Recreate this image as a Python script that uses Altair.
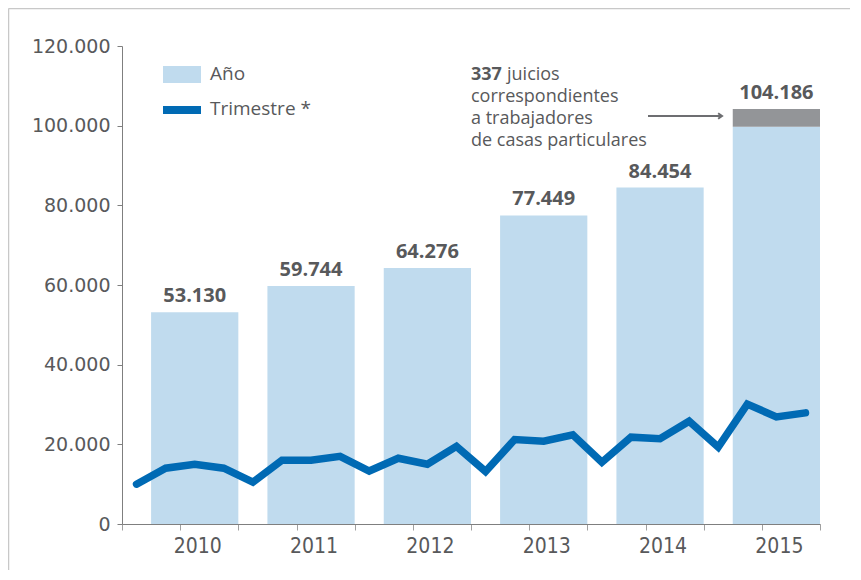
import altair as alt
import pandas as pd

# ---------------- data ----------------
years = ["2010", "2011", "2012", "2013", "2014", "2015"]
annual_totals = [53130, 59744, 64276, 77449, 84454, 104186]
# light-blue part of each bar as drawn (2015 split: grey top segment = 337 domestic-worker cases, drawn enlarged)
annual_base = [53130, 59744, 64276, 77449, 84454, 99700]
quarterly = [10000, 14000, 15000, 14000,
             10500, 16000, 16000, 17000,
             13300, 16500, 15000, 19500,
             13200, 21200, 20800, 22400,
             15500, 21800, 21400, 25800,
             19300, 30100, 26900, 27900]
y_ticks = [0, 20000, 40000, 60000, 80000, 100000, 120000]

W, H = 698, 478
TXT = "#58595b"
BLUE_LIGHT = "#c0dbee"
BLUE = "#006ab4"
GREY = "#939598"
AXIS = "#7f7f7f"

def fmt(v):
    return f"{v:,}".replace(",", ".")

bars = []
for i, (y, base, tot) in enumerate(zip(years, annual_base, annual_totals)):
    bars.append({"x0": 4 * i + 1, "x1": 4 * i + 4, "lo": 0, "hi": base, "col": BLUE_LIGHT})
    if tot > base:
        bars.append({"x0": 4 * i + 1, "x1": 4 * i + 4, "lo": base, "hi": tot, "col": GREY})
bars_df = pd.DataFrame(bars)

labels_df = pd.DataFrame({
    "year": years,
    "xc": [4 * i + 2.5 for i in range(len(years))],
    "total": annual_totals,
    "label": [fmt(v) for v in annual_totals],
})

line_df = pd.DataFrame({"q": [i + 0.5 for i in range(len(quarterly))], "v": quarterly})

xs = alt.Scale(domain=[0, 24], nice=False, zero=False)
ys = alt.Scale(domain=[0, 120000], nice=False)

base = alt.Chart(bars_df)

bar_layer = base.mark_rect().encode(
    x=alt.X("x0:Q", scale=xs,
            axis=alt.Axis(values=list(range(25)), labels=False, tickSize=6, title=None,
                          grid=False, domainColor=AXIS, tickColor="#a0a0a0", domainWidth=1)),
    x2="x1:Q",
    y=alt.Y("lo:Q", scale=ys,
            axis=alt.Axis(values=y_ticks, title=None, grid=False, tickSize=5, labelPadding=7,
                          domainColor=AXIS, tickColor=AXIS, labelColor=TXT, labelFontSize=19,
                          labelFont="DejaVu Sans",
                          labelExpr="replace(format(datum.value, ','), regexp(',', 'g'), '.')")),
    y2="hi:Q",
    color=alt.Color("col:N", scale=None),
)

line_layer = alt.Chart(line_df).mark_line(
    color=BLUE, strokeWidth=7.5, strokeCap="round", strokeJoin="miter"
).encode(x=alt.X("q:Q", scale=xs), y=alt.Y("v:Q", scale=ys))

value_layer = alt.Chart(labels_df).mark_text(
    font="Open Sans", fontWeight="bold", fontSize=20, color=TXT, baseline="middle", dy=-16
).encode(x=alt.X("xc:Q", scale=xs), y=alt.Y("total:Q", scale=ys), text="label:N")

year_layer = alt.Chart(labels_df).mark_text(
    font="DejaVu Sans Condensed", fontSize=21, color=TXT, baseline="middle", dx=3
).encode(x=alt.X("xc:Q", scale=xs), y=alt.value(H + 23), text="year:N")

one = pd.DataFrame({"a": [0]})
oc = alt.Chart(one)

leg_rect = oc.mark_rect(color=BLUE_LIGHT).encode(
    x=alt.value(41), x2=alt.value(79), y=alt.value(20), y2=alt.value(37))
leg_line = oc.mark_rule(color=BLUE, strokeWidth=8).encode(
    x=alt.value(41), x2=alt.value(79), y=alt.value(64))
leg_t1 = oc.mark_text(font="Open Sans", fontSize=19, color=TXT, align="left", baseline="middle").encode(
    x=alt.value(88), y=alt.value(28), text=alt.value("Año"))
leg_t2 = oc.mark_text(font="Open Sans", fontSize=19, color=TXT, align="left", baseline="middle").encode(
    x=alt.value(88), y=alt.value(63), text=alt.value("Trimestre *"))

ann_bold = oc.mark_text(font="Open Sans", fontWeight="bold", fontSize=18, color=TXT,
                        align="left", baseline="middle").encode(
    x=alt.value(349), y=alt.value(29), text=alt.value("337"))
ann_lines = [("juicios", 385, 29), ("correspondientes", 349, 51),
             ("a trabajadores", 349, 73), ("de casas particulares", 349, 95)]
ann_layers = [oc.mark_text(font="Open Sans", fontSize=18, color=TXT, align="left",
                           baseline="middle").encode(x=alt.value(xx), y=alt.value(yy), text=alt.value(t))
              for t, xx, yy in ann_lines]
arrow_line = oc.mark_rule(color="#6d6e71", strokeWidth=2).encode(
    x=alt.value(526), x2=alt.value(600), y=alt.value(70))
arrow_head = oc.mark_point(shape="M -1 -0.7 L 0 0 L -1 0.7", filled=False, color="#6d6e71",
                           strokeWidth=2, size=60, opacity=1).encode(
    x=alt.value(600), y=alt.value(70))

border_top = oc.mark_rule(color="#c8c8c8", strokeWidth=1.5).encode(
    x=alt.value(-113.5), x2=alt.value(W + 30), y=alt.value(-37.5))
border_left = oc.mark_rule(color="#c8c8c8", strokeWidth=1.5).encode(
    x=alt.value(-113.5), y=alt.value(-37.5), y2=alt.value(H + 46))

chart = alt.layer(
    bar_layer, line_layer, value_layer, year_layer,
    leg_rect, leg_line, leg_t1, leg_t2, ann_bold, *ann_layers, arrow_line, arrow_head,
    border_top, border_left,
).properties(
    width=W, height=H,
    padding={"left": 114, "top": 38, "right": 30, "bottom": 46},
    autosize=alt.AutoSizeParams(type="none"),
).configure_view(stroke=None)

chart.save("out.html", embed_options={"renderer": "svg", "actions": False})
